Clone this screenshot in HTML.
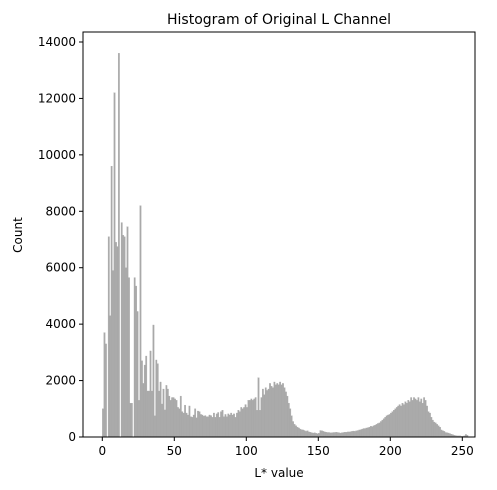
<!DOCTYPE html>
<html><head><meta charset="utf-8"><style>
html,body{margin:0;padding:0;background:#fff;}
svg{display:block;font-family:"DejaVu Sans","Liberation Sans",sans-serif;}
</style></head><body>
<svg id="chart" width="497" height="490" viewBox="0 0 497 490">
<text x="279" y="24" text-anchor="middle" font-size="14">Histogram of Original L Channel</text>
<g id="bars"></g>
<rect x="83" y="32" width="392" height="405" fill="none" stroke="#000" stroke-width="1"/>
<g id="xticks"></g>
<g id="yticks"></g>
<text x="279" y="477" text-anchor="middle" font-size="12">L* value</text>
<text x="22" y="235" text-anchor="middle" font-size="12" transform="rotate(-90 22 235)">Count</text>
</svg>
<script>
const countsA = [1000,3700,3300,0,7100,4300,9600,5900,12200,6900,6750,13600,0,7600,7150,7100,6000,7450,5650,1200,1200,0,5650,5350,4450,1300,8200,2700,1900,2550,2870,1630,1630,3050,1630,3970,750,2730,2600,1630,1950,1170,1700,960,1830,1700,1450,1300,1400,1400];
const countsB = [1350,1300,1050,1000,1450,900,850,1130,850,780,1100,720,700,780,1000,680,920,900,800,780,740,760,720,720,780,760,700,850,700,820,870,700,900,950,720,800,720,820,780,850,780,820,700,850,950,900,1050,1000,1050,1150,1050,1300,1300,1350,1300,1350,1400,950,2100,950,1400,1700,1500,1750,1650,1700,1900,1800,1750,1950,1850,1900,1850,1950,1850,1900,1750,1600,1450,1200,1000,750,550,450,400,350,320,280,260,250,230,200,220,180,170,150,140,150,130,120,130];
const countsC = [230,220,200,180,170,160,160,150,150,160,160,170,160,150,140,150,160,170,170,180,
180,190,200,210,200,220,230,250,260,280,
300,300,320,330,350,380,370,400,420,450,
480,500,550,600,650,700,750,780,800,850,
900,950,1000,1050,1100,1150,1100,1200,1150,1250,
1200,1300,1250,1400,1300,1400,1350,1300,1400,1250,
1350,1200,1400,1300,1100,900,850,700,600,530,
500,450,400,350,250,220,200,160,150,140,
120,100,80,60,50,40,40,40,30,30,40,90,60,0,0];
const counts = countsA.concat(countsB, countsC).slice(0,256);
const xTicks = [0,50,100,150,200,250];
const yTicks = [0,2000,4000,6000,8000,10000,12000,14000];

const X0 = 102.3, XS = 1.44, Y0 = 437, YS = 395/14000;
const xScale = v => X0 + v*XS;
const yScale = v => Y0 - v*YS;
const NS = "http://www.w3.org/2000/svg";
const gb = document.getElementById('bars');
counts.forEach((c,i)=>{
  if(!c) return;
  const r = document.createElementNS(NS,'rect');
  r.setAttribute('x', xScale(i));
  r.setAttribute('y', yScale(c));
  r.setAttribute('width', XS);
  r.setAttribute('height', Y0 - yScale(c));
  r.setAttribute('fill', '#a9a9a9');
  r.setAttribute('stroke', '#a9a9a9');
  r.setAttribute('stroke-width', '0.3');
  
  
  gb.appendChild(r);
});
const gx = document.getElementById('xticks');
xTicks.forEach(t=>{
  const x = xScale(t);
  const l = document.createElementNS(NS,'line');
  l.setAttribute('x1',x);l.setAttribute('x2',x);l.setAttribute('y1',437);l.setAttribute('y2',441);
  l.setAttribute('stroke','#000');
  
  
  gx.appendChild(l);
  const tx = document.createElementNS(NS,'text');
  tx.setAttribute('x',x);tx.setAttribute('y',455);tx.setAttribute('text-anchor','middle');tx.setAttribute('font-size','12');
  tx.textContent = t;
  
  
  gx.appendChild(tx);
});
const gy = document.getElementById('yticks');
yTicks.forEach(t=>{
  const y = yScale(t);
  const l = document.createElementNS(NS,'line');
  l.setAttribute('x1',79);l.setAttribute('x2',83);l.setAttribute('y1',y);l.setAttribute('y2',y);
  l.setAttribute('stroke','#000');
  
  
  gy.appendChild(l);
  const tx = document.createElementNS(NS,'text');
  tx.setAttribute('x',76);tx.setAttribute('y',y+4);tx.setAttribute('text-anchor','end');tx.setAttribute('font-size','12');
  tx.textContent = t;
  
  
  gy.appendChild(tx);
});
</script>
</body></html>
